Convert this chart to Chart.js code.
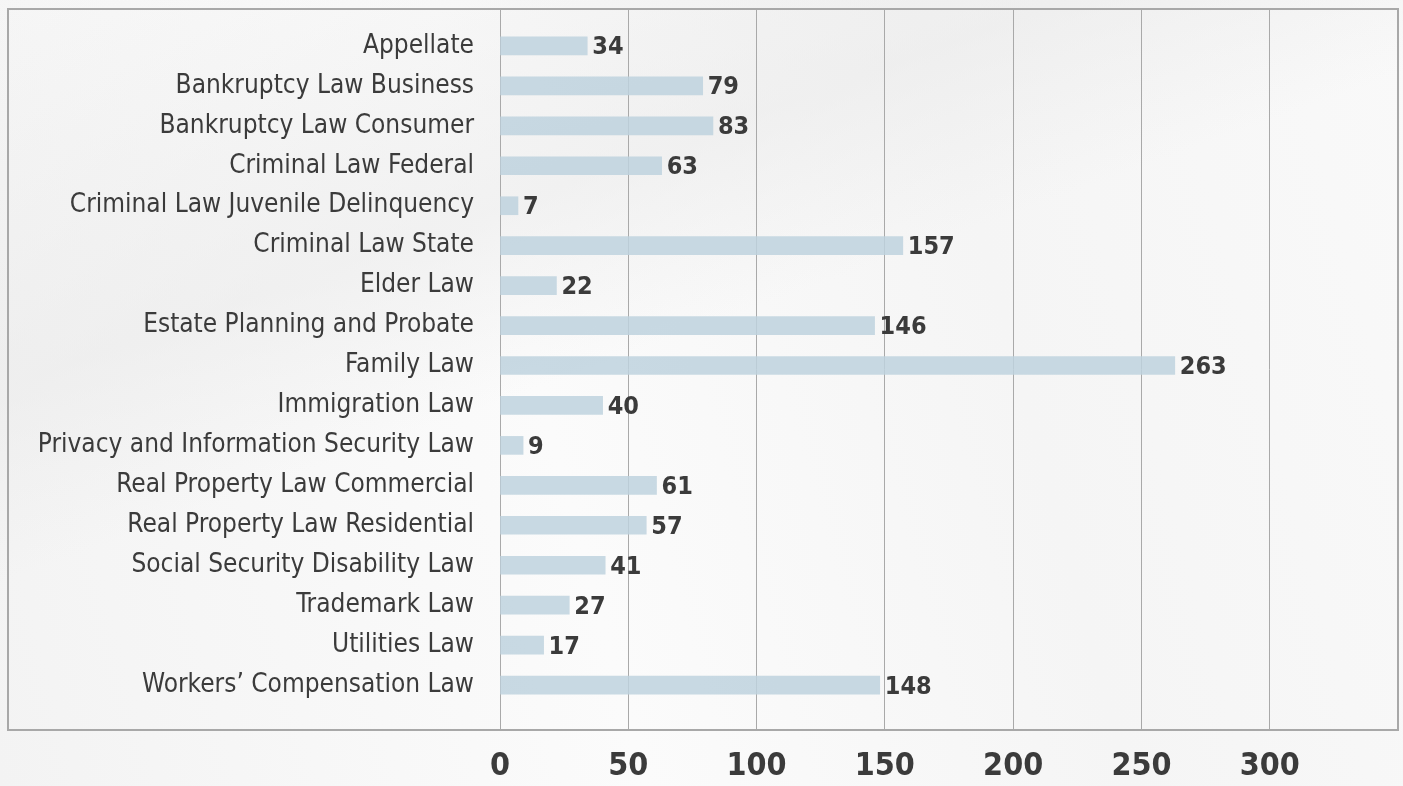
<!DOCTYPE html>
<html>
<head>
<meta charset="utf-8">
<script src="https://cdn.jsdelivr.net/npm/chart.js@4.4.1/dist/chart.umd.min.js"></script>
<style>
  html, body { margin: 0; padding: 0; }
  body {
    width: 1403px; height: 786px; overflow: hidden;
    background:
      linear-gradient(160deg, rgba(255,255,255,0) 0%, rgba(232,232,232,0.5) 30%, rgba(255,255,255,0) 45%),
      linear-gradient(75deg, #f3f3f3 0%, #fbfbfb 40%, #f5f5f5 70%, #f9f9f9 100%);
  }
  #wrap { position: relative; width: 1403px; height: 786px; }
</style>
</head>
<body>
<div id="wrap"><canvas id="practiceChart"></canvas></div>
<script>
const categories = [
  'Appellate',
  'Bankruptcy Law Business',
  'Bankruptcy Law Consumer',
  'Criminal Law Federal',
  'Criminal Law Juvenile Delinquency',
  'Criminal Law State',
  'Elder Law',
  'Estate Planning and Probate',
  'Family Law',
  'Immigration Law',
  'Privacy and Information Security Law',
  'Real Property Law Commercial',
  'Real Property Law Residential',
  'Social Security Disability Law',
  'Trademark Law',
  'Utilities Law',
  'Workers\u2019 Compensation Law'
];
const counts = [34, 79, 83, 63, 7, 157, 22, 146, 263, 40, 9, 61, 57, 41, 27, 17, 148];
const xTicks = [0, 50, 100, 150, 200, 250, 300];
const xMax = 350;

const fontFamily = '"DejaVu Sans Condensed", "DejaVu Sans", sans-serif';
const textColor = '#3b3b3b';
const gridColor = '#a9a9a9';

// border box round labels + plot, like the original
const boxPlugin = {
  id: 'box',
  afterDraw(chart) {
    const ctx = chart.ctx, a = chart.chartArea;
    ctx.save();
    ctx.strokeStyle = '#a8a8a8';
    ctx.lineWidth = 2;
    ctx.strokeRect(8, a.top, a.right - 8, a.bottom - a.top);
    ctx.restore();
  }
};

// value labels at bar ends
const valuePlugin = {
  id: 'values',
  afterDatasetsDraw(chart) {
    const ctx = chart.ctx;
    ctx.save();
    ctx.font = 'bold 25px ' + fontFamily;
    ctx.fillStyle = textColor;
    ctx.textBaseline = 'middle';
    ctx.textAlign = 'left';
    chart.getDatasetMeta(0).data.forEach((bar, i) => {
      ctx.fillText(counts[i], bar.x + 5, bar.y + 2);
    });
    ctx.restore();
  }
};

new Chart(document.getElementById('practiceChart'), {
  type: 'bar',
  data: {
    datasets: [{
      data: counts.map((v, i) => ({ x: v, y: i })),
      backgroundColor: 'rgba(190, 210, 222, 0.85)',
      borderWidth: 0,
      barThickness: 18
    }]
  },
  options: {
    indexAxis: 'y',
    responsive: true,
    maintainAspectRatio: false,
    animation: false,
    layout: { padding: { left: 8, top: 9, right: 5, bottom: 0 } },
    plugins: { legend: { display: false }, tooltip: { enabled: false } },
    scales: {
      x: {
        type: 'linear',
        min: 0,
        max: xMax,
        afterBuildTicks(scale) {
          scale.ticks = xTicks.concat([xMax]).map(v => ({ value: v }));
        },
        afterFit(scale) {
          scale.height = 56;
          scale.paddingLeft = 0;
          scale.paddingRight = 0;
        },
        grid: { color: gridColor, lineWidth: 1, drawTicks: false },
        border: { display: false },
        ticks: {
          padding: 17,
          color: textColor,
          maxRotation: 0,
          font: { family: fontFamily, weight: 'bold', size: 32 },
          callback: v => (v === xMax ? '' : v)
        }
      },
      y: {
        type: 'linear',
        reverse: true,
        offset: false,
        min: -0.925,
        max: categories.length - 1 + 1.125,
        afterBuildTicks(scale) {
          scale.ticks = categories.map((c, i) => ({ value: i }));
        },
        afterFit(scale) {
          scale.width = 492;
          scale.paddingTop = 0;
          scale.paddingBottom = 0;
        },
        grid: { display: false, drawTicks: false },
        border: { display: true, color: gridColor, width: 1 },
        ticks: {
          padding: 26,
          color: textColor,
          font: { family: fontFamily, size: 26 },
          callback: v => categories[v]
        }
      }
    }
  },
  plugins: [boxPlugin, valuePlugin]
});
</script>
</body>
</html>
